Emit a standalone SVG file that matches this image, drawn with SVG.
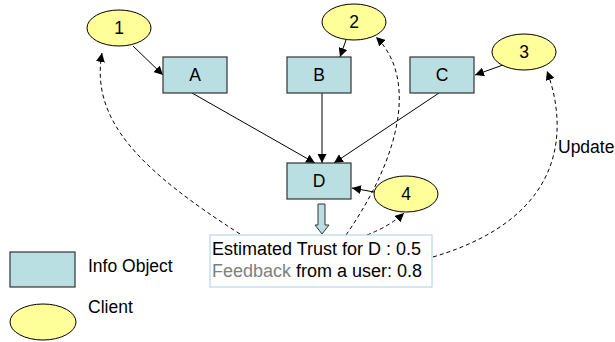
<svg xmlns="http://www.w3.org/2000/svg" width="615" height="342" viewBox="0 0 615 342">
<style>
.obj{fill:#b9dfe3;stroke:#333;stroke-width:1.2}
.cli{fill:#ffff99;stroke:#000;stroke-width:1}
.lbl{font-family:"Liberation Sans",Arial,sans-serif;font-size:17.5px;fill:#000}
.txt{font-family:"Liberation Sans",Arial,sans-serif;font-size:17.5px;fill:#000}
.big{font-size:18px}
.sol{fill:none;stroke:#000;stroke-width:1;marker-end:url(#ah)}
.dash{fill:none;stroke:#000;stroke-width:1;stroke-dasharray:4,3;marker-end:url(#ah)}
</style>
<defs>
<marker id="ah" viewBox="0 0 10 10" refX="10" refY="5" markerWidth="9" markerHeight="9" markerUnits="userSpaceOnUse" orient="auto">
<path d="M0,0 L10,5 L0,10 z" fill="#000"/>
</marker>
</defs>
<rect width="615" height="342" fill="#fff"/>
<g id="connectors">
<line class="sol" x1="133" y1="46" x2="163" y2="75"/>
<line class="sol" x1="346" y1="40" x2="340" y2="57"/>
<line class="sol" x1="503" y1="65" x2="475" y2="75"/>
<line class="sol" x1="192" y1="93" x2="315" y2="163"/>
<line class="sol" x1="322" y1="93" x2="322" y2="163"/>
<line class="sol" x1="439" y1="93" x2="334" y2="163"/>
<line class="sol" x1="374" y1="192" x2="352" y2="188"/>
<path class="dash" d="M240,234 C140,170 90,120 102,53"/>
<path class="dash" d="M346,235 C405,150 415,75 376,37"/>
<path class="dash" d="M367,235 Q390,226 404,213"/>
<path class="dash" d="M433,257 C575,215 565,120 547,71"/>
<path d="M318,204 L325,204 L325,225 L329,225 L322,234 L315,225 L318,225 Z" fill="#b9dfe3" stroke="#333" stroke-width="1"/>
</g>
<g id="n1"><ellipse class="cli" cx="119" cy="28" rx="32" ry="18"/><text class="lbl" x="119" y="34" text-anchor="middle">1</text></g>
<g id="n2"><ellipse class="cli" cx="354" cy="22" rx="32" ry="18"/><text class="lbl" x="354" y="28" text-anchor="middle">2</text></g>
<g id="n3"><ellipse class="cli" cx="524" cy="52" rx="32" ry="18"/><text class="lbl" x="524" y="58" text-anchor="middle">3</text></g>
<g id="n4"><ellipse class="cli" cx="406" cy="194" rx="32" ry="18"/><text class="lbl" x="406" y="200" text-anchor="middle">4</text></g>
<g id="A"><rect class="obj" x="163" y="57" width="64" height="36"/><text class="lbl" x="195" y="81" text-anchor="middle">A</text></g>
<g id="B"><rect class="obj" x="287" y="57" width="64" height="36"/><text class="lbl" x="319" y="81" text-anchor="middle">B</text></g>
<g id="C"><rect class="obj" x="410" y="57" width="64" height="36"/><text class="lbl" x="442" y="81" text-anchor="middle">C</text></g>
<g id="D"><rect class="obj" x="287" y="163" width="64" height="36"/><text class="lbl" x="319" y="187" text-anchor="middle">D</text></g>
<g id="trustbox">
<rect x="210" y="235" width="222" height="52" fill="#fff" stroke="#a8cdf0" stroke-width="1"/>
<text class="txt big" x="212" y="255">Estimated Trust for D : 0.5</text>
<text class="txt big" x="212" y="277"><tspan fill="#808080">Feedback</tspan> from a user: 0.8</text>
</g>
<g id="update"><text class="txt" x="558" y="153">Update</text></g>
<g id="legend">
<rect class="obj" x="10" y="252" width="65" height="35"/>
<text class="txt" x="88" y="272">Info Object</text>
<ellipse class="cli" cx="43" cy="322" rx="33" ry="18"/>
<text class="txt" x="88" y="313">Client</text>
</g>
</svg>
